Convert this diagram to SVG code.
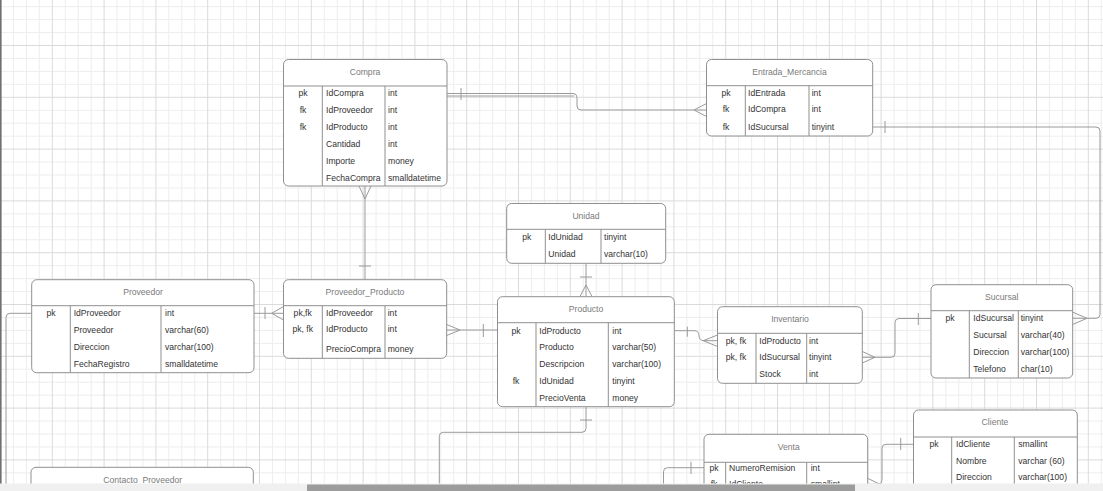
<svg xmlns="http://www.w3.org/2000/svg" width="1103" height="491" viewBox="0 0 1103 491">
<defs>
<pattern id="grid" width="51.8" height="51.8" x="0" y="45" patternUnits="userSpaceOnUse">
<rect x="12.95" y="0" width="1" height="51.8" fill="#ededed"/>
<rect x="25.9" y="0" width="1" height="51.8" fill="#ededed"/>
<rect x="38.85" y="0" width="1" height="51.8" fill="#ededed"/>
<rect x="0" y="12.95" width="51.8" height="1" fill="#ededed"/>
<rect x="0" y="25.9" width="51.8" height="1" fill="#ededed"/>
<rect x="0" y="38.85" width="51.8" height="1" fill="#ededed"/>
<rect x="0" y="0" width="1" height="51.8" fill="#dadada"/>
<rect x="0" y="0" width="51.8" height="1" fill="#dadada"/>
</pattern>
<style>
.box{fill:#fff;stroke:#8f8f8f;stroke-width:1}
.ln{stroke:#8f8f8f;stroke-width:1;fill:none}
.c{stroke:#9a9a9a;stroke-width:1;fill:none}
.t{font-family:"Liberation Sans",Arial,sans-serif;font-size:8.6px;fill:#7a7a7a;text-anchor:middle}
.k{font-family:"Liberation Sans",Arial,sans-serif;font-size:8.6px;fill:#333;text-anchor:middle}
.f{font-family:"Liberation Sans",Arial,sans-serif;font-size:8.6px;fill:#333}
</style>
</defs>
<rect width="1103" height="491" fill="#fff"/>
<rect width="1103" height="491" fill="url(#grid)"/>
<rect x="0" y="0" width="1.6" height="491" fill="#707070"/>

<g id="connectors">
<!-- Compra -> Entrada_Mercancia -->
<path class="c" d="M447,93.5 H573 Q577,93.5 577,97.5 V106 Q577,110 581,110 H706.5"/>
<path class="c" d="M447,96 H574"/>
<path class="c" d="M461,88 V100"/>
<path class="c" d="M706.5,103.5 L694,110 L706.5,116.5"/>
<!-- Entrada_Mercancia -> Sucursal -->
<path class="c" d="M872.7,127 H1096 Q1100,127 1100,131 V314.3 Q1100,318.3 1096,318.3 H1073"/>
<path class="c" d="M885,121 V133"/>
<path class="c" d="M1073,312.3 L1087,318.3 L1073,324.3"/>
<!-- Compra -> Proveedor_Producto -->
<path class="c" d="M365,186 V279.5"/>
<path class="c" d="M359,186 L365,199 L371,186"/>
<path class="c" d="M359,266 H371"/>
<!-- Proveedor -> Proveedor_Producto -->
<path class="c" d="M254,313.3 H283.5"/>
<path class="c" d="M265,307 V319"/>
<path class="c" d="M283.5,306.5 L271.7,313.3 L283.5,320"/>
<!-- Proveedor_Producto -> Producto -->
<path class="c" d="M446.7,330 H497.5"/>
<path class="c" d="M446.7,324.5 L460,330 L446.7,335.5"/>
<path class="c" d="M483.3,324 V337"/>
<!-- Unidad -> Producto -->
<path class="c" d="M586,263.3 V296.5"/>
<path class="c" d="M580,277 H592"/>
<path class="c" d="M580,296.5 L586,285 L592,296.5"/>
<!-- Producto -> Inventario -->
<path class="c" d="M674.3,330.7 H694 Q699,330.7 699,335.7 Q699,340.7 704,340.7 H717.5"/>
<path class="c" d="M687.3,326.7 V336.7"/>
<path class="c" d="M717.5,335 L703.3,340.7 L717.5,346.5"/>
<!-- Inventario -> Sucursal -->
<path class="c" d="M862.3,357.3 H891 Q895,357.3 895,353.3 V322.5 Q895,318.5 899,318.5 H931"/>
<path class="c" d="M862.3,351.5 L875,357.3 L862.3,363"/>
<path class="c" d="M918.3,313 V325"/>
<!-- Producto -> (below) -->
<path class="c" d="M586,406.7 V428.3 Q586,432.3 582,432.3 H443.3 Q439.3,432.3 439.3,436.3 V491"/>
<path class="c" d="M580,420 H592"/>
<!-- Venta pk -> (below) -->
<path class="c" d="M704,467.7 H667.5 Q663.5,467.7 663.5,471.7 V491"/>
<path class="c" d="M691,461.7 V474"/>
<!-- Cliente -> Venta -->
<path class="c" d="M913.5,444.3 H886 Q882,444.3 882,448.3 V480.3 Q882,484.3 878,484.3 H868"/>
<path class="c" d="M900.7,438 V450"/>
<path class="c" d="M868,478.5 L880,484.3 L868,490"/>
<!-- Proveedor -> (below left) -->
<path class="c" d="M31.7,313.3 H10 Q6,313.3 6,317.3 V491"/>
</g>

<g id="Compra">
<rect class="box" x="283.5" y="59.5" width="163.5" height="126.5" rx="5"/>
<path class="ln" d="M283.5,86 H447 M322.3,86 V186 M385,86 V186"/>
<text class="t" x="365" y="75">Compra</text>
<text class="k" x="303" y="96.3">pk</text><text class="f" x="326" y="96.3">IdCompra</text><text class="f" x="388" y="96.3">int</text>
<text class="k" x="303" y="113">fk</text><text class="f" x="326" y="113">IdProveedor</text><text class="f" x="388" y="113">int</text>
<text class="k" x="303" y="130">fk</text><text class="f" x="326" y="130">IdProducto</text><text class="f" x="388" y="130">int</text>
<text class="f" x="326" y="147">Cantidad</text><text class="f" x="388" y="147">int</text>
<text class="f" x="326" y="164">Importe</text><text class="f" x="388" y="164">money</text>
<text class="f" x="326" y="180.5">FechaCompra</text><text class="f" x="388" y="180.5">smalldatetime</text>
</g>

<g id="Entrada_Mercancia">
<rect class="box" x="706.5" y="59.5" width="166.2" height="76.5" rx="5"/>
<path class="ln" d="M706.5,85.7 H872.7 M745.3,85.7 V136 M809,85.7 V136"/>
<text class="t" x="789.5" y="75">Entrada_Mercancia</text>
<text class="k" x="726" y="96.3">pk</text><text class="f" x="748" y="96.3">IdEntrada</text><text class="f" x="811.7" y="96.3">int</text>
<text class="k" x="726" y="112.3">fk</text><text class="f" x="748" y="112.3">IdCompra</text><text class="f" x="811.7" y="112.3">int</text>
<text class="k" x="726" y="129.7">fk</text><text class="f" x="748" y="129.7">IdSucursal</text><text class="f" x="811.7" y="129.7">tinyint</text>
</g>

<g id="Unidad">
<rect class="box" x="506.7" y="203.5" width="159" height="59.8" rx="5"/>
<path class="ln" d="M506.7,229.3 H665.7 M545.3,229.3 V263.3 M601,229.3 V263.3"/>
<text class="t" x="586" y="219">Unidad</text>
<text class="k" x="526.7" y="240.3">pk</text><text class="f" x="548.3" y="240.3">IdUnidad</text><text class="f" x="604" y="240.3">tinyint</text>
<text class="f" x="548.3" y="257">Unidad</text><text class="f" x="604" y="257">varchar(10)</text>
</g>

<g id="Proveedor">
<rect class="box" x="31.7" y="279.7" width="222.3" height="93" rx="5"/>
<path class="ln" d="M31.7,305.7 H254 M70.3,305.7 V372.7 M161,305.7 V372.7"/>
<text class="t" x="143" y="294.7">Proveedor</text>
<text class="k" x="51" y="316.3">pk</text><text class="f" x="73.7" y="316.3">IdProveedor</text><text class="f" x="165" y="316.3">int</text>
<text class="f" x="73.7" y="333">Proveedor</text><text class="f" x="165" y="333">varchar(60)</text>
<text class="f" x="73.7" y="349.7">Direccion</text><text class="f" x="165" y="349.7">varchar(100)</text>
<text class="f" x="73.7" y="367.3">FechaRegistro</text><text class="f" x="165" y="367.3">smalldatetime</text>
</g>

<g id="Proveedor_Producto">
<rect class="box" x="283.5" y="279.7" width="163.2" height="78.6" rx="5"/>
<path class="ln" d="M283.5,305.7 H446.7 M322.3,305.7 V358.3 M385,305.7 V358.3"/>
<text class="t" x="365" y="294.7">Proveedor_Producto</text>
<text class="k" x="302.7" y="316.3">pk,fk</text><text class="f" x="326" y="316.3">IdProveedor</text><text class="f" x="387.7" y="316.3">int</text>
<text class="k" x="302.7" y="332.3">pk, fk</text><text class="f" x="326" y="332.3">IdProducto</text><text class="f" x="387.7" y="332.3">int</text>
<text class="f" x="326" y="352">PrecioCompra</text><text class="f" x="387.7" y="352">money</text>
</g>

<g id="Producto">
<rect class="box" x="497.5" y="296.7" width="176.8" height="110" rx="5"/>
<path class="ln" d="M497.5,322.7 H674.3 M536,322.7 V406.7 M608.3,322.7 V406.7"/>
<text class="t" x="586" y="312">Producto</text>
<text class="k" x="516" y="333.7">pk</text><text class="f" x="539.3" y="333.7">IdProducto</text><text class="f" x="612.3" y="333.7">int</text>
<text class="f" x="539.3" y="350.3">Producto</text><text class="f" x="612.3" y="350.3">varchar(50)</text>
<text class="f" x="539.3" y="367">Descripcion</text><text class="f" x="612.3" y="367">varchar(100)</text>
<text class="k" x="516" y="383.7">fk</text><text class="f" x="539.3" y="383.7">IdUnidad</text><text class="f" x="612.3" y="383.7">tinyint</text>
<text class="f" x="539.3" y="401">PrecioVenta</text><text class="f" x="612.3" y="401">money</text>
</g>

<g id="Inventario">
<rect class="box" x="717.5" y="306.7" width="144.8" height="76.6" rx="5"/>
<path class="ln" d="M717.5,333.3 H862.3 M756,333.3 V383.3 M806.7,333.3 V383.3"/>
<text class="t" x="790" y="322">Inventario</text>
<text class="k" x="736" y="343.7">pk, fk</text><text class="f" x="759.3" y="343.7">IdProducto</text><text class="f" x="809" y="343.7">int</text>
<text class="k" x="736" y="360.3">pk, fk</text><text class="f" x="759.3" y="360.3">IdSucursal</text><text class="f" x="809" y="360.3">tinyint</text>
<text class="f" x="759.3" y="377">Stock</text><text class="f" x="809" y="377">int</text>
</g>

<g id="Sucursal">
<rect class="box" x="931" y="284.7" width="141.7" height="93.3" rx="5"/>
<path class="ln" d="M931,310.7 H1072.7 M969.3,310.7 V378 M1018.3,310.7 V378"/>
<text class="t" x="1001.7" y="300.3">Sucursal</text>
<text class="k" x="950" y="321.3">pk</text><text class="f" x="973.3" y="321.3">IdSucursal</text><text class="f" x="1020.7" y="321.3">tinyint</text>
<text class="f" x="973.3" y="338">Sucursal</text><text class="f" x="1020.7" y="338">varchar(40)</text>
<text class="f" x="973.3" y="354.7">Direccion</text><text class="f" x="1020.7" y="354.7">varchar(100)</text>
<text class="f" x="973.3" y="372.3">Telefono</text><text class="f" x="1020.7" y="372.3">char(10)</text>
</g>

<g id="Cliente">
<rect class="box" x="913.5" y="410" width="163.8" height="110" rx="5"/>
<path class="ln" d="M913.5,437 H1077.3 M951.7,437 V520 M1014.3,437 V520"/>
<text class="t" x="995" y="424.7">Cliente</text>
<text class="k" x="934" y="447.3">pk</text><text class="f" x="956" y="447.3">IdCliente</text><text class="f" x="1018.3" y="447.3">smallint</text>
<text class="f" x="956" y="464">Nombre</text><text class="f" x="1018.3" y="464">varchar (60)</text>
<text class="f" x="956" y="479.7">Direccion</text><text class="f" x="1018.3" y="479.7">varchar(100)</text>
</g>

<g id="Venta">
<rect class="box" x="704" y="434.3" width="163.7" height="90" rx="5"/>
<path class="ln" d="M704,462.3 H867.7 M725.7,462.3 V524 M806.7,462.3 V524"/>
<text class="t" x="788.7" y="449.7">Venta</text>
<text class="k" x="714" y="470.7">pk</text><text class="f" x="729" y="470.7">NumeroRemision</text><text class="f" x="810.7" y="470.7">int</text>
<text class="k" x="714" y="487.3">fk</text><text class="f" x="729" y="487.3">IdCliente</text><text class="f" x="810.7" y="487.3">smallint</text>
</g>

<g id="Contacto_Proveedor">
<rect class="box" x="31" y="467.3" width="222.3" height="60" rx="5"/>
<text class="t" x="142.7" y="483">Contacto_Proveedor</text>
</g>

<rect x="0" y="483.5" width="1103" height="7.5" fill="#f0f0f0"/>
<rect x="307" y="484.5" width="548" height="6.5" fill="#9c9c9c"/>
</svg>
